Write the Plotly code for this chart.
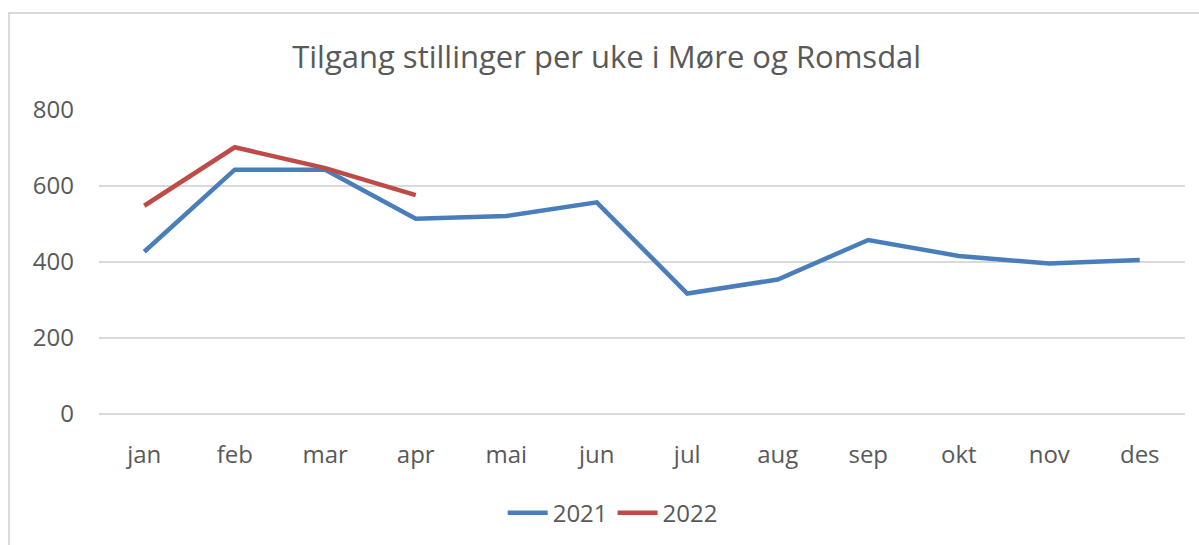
import plotly.graph_objects as go

months = ["jan", "feb", "mar", "apr", "mai", "jun", "jul", "aug", "sep", "okt", "nov", "des"]
values_2021 = [427, 643, 643, 514, 521, 557, 317, 354, 458, 416, 396, 405]
months_2022 = ["jan", "feb", "mar", "apr"]
values_2022 = [548, 702, 647, 576]
y_ticks = [0, 200, 400, 600, 800]

font = "Open Sans"
txt = "#595959"

fig = go.Figure()
fig.add_trace(go.Scatter(x=months, y=values_2021, name="2021", mode="lines",
                         line=dict(color="#4A7EBB", width=4.5)))
fig.add_trace(go.Scatter(x=months_2022, y=values_2022, name="2022", mode="lines",
                         line=dict(color="#BE4B48", width=4.5)))

fig.update_layout(
    width=1199, height=545,
    margin=dict(l=99, r=14, t=110, b=131, autoexpand=False),
    paper_bgcolor="white", plot_bgcolor="white",
    title=dict(text="Tilgang stillinger per uke i Møre og Romsdal",
               x=0.506, xanchor="center", y=0.895, yanchor="middle",
               font=dict(family=font, size=31, color=txt)),
    font=dict(family=font, size=24, color=txt),
    xaxis=dict(categoryorder="array", categoryarray=months, showgrid=False,
               showline=False, ticks="", tickfont=dict(size=24, color=txt),
               range=[-0.5, 11.5], fixedrange=True, automargin=False),
    yaxis=dict(range=[0, 800], tickvals=y_ticks, showgrid=True, gridcolor="#D9D9D9",
               gridwidth=1.5, zeroline=True, zerolinecolor="#D9D9D9", zerolinewidth=1.5,
               showline=False, ticks="", tickfont=dict(size=24, color=txt),
               automargin=False, fixedrange=True),
    legend=dict(orientation="h", x=0.473, xanchor="center", y=-0.326, yanchor="middle",
                font=dict(size=24, color=txt), itemwidth=40),
    showlegend=True,
)
fig.update_yaxes(ticklabelstandoff=24)
fig.update_xaxes(ticklabelstandoff=24)

fig.add_shape(type="rect", xref="paper", yref="paper",
              x0=-0.0829, x1=1.03, y0=-0.5, y1=1.319,
              line=dict(color="#D9D9D9", width=2), fillcolor="rgba(0,0,0,0)", layer="below")

fig.write_html("out.html", config={"displayModeBar": False},
               post_script="document.body.style.margin='0';")
